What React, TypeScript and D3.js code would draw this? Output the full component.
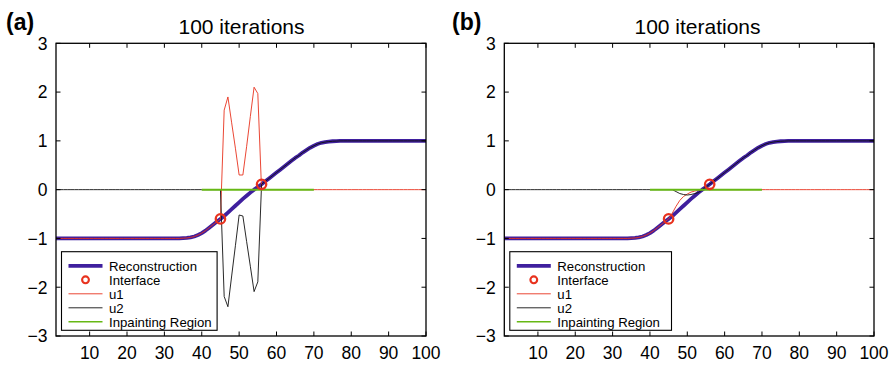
import React from 'react';
import * as d3 from 'd3';

const xIndex = [
  1, 2, 3, 4, 5, 6, 7, 8, 9, 10, 11, 12, 13, 14, 15, 16, 17, 18, 19, 20,
  21, 22, 23, 24, 25, 26, 27, 28, 29, 30, 31, 32, 33, 34, 35, 36, 37, 38, 39, 40,
  41, 42, 43, 44, 45, 46, 47, 48, 49, 50, 51, 52, 53, 54, 55, 56, 57, 58, 59, 60,
  61, 62, 63, 64, 65, 66, 67, 68, 69, 70, 71, 72, 73, 74, 75, 76, 77, 78, 79, 80,
  81, 82, 83, 84, 85, 86, 87, 88, 89, 90, 91, 92, 93, 94, 95, 96, 97, 98, 99, 100,
];

const reconstruction = [
  -1, -1, -1, -1, -1, -1, -1, -1, -1, -1,
  -1, -1, -1, -1, -1, -1, -1, -1, -1, -1,
  -1, -1, -1, -1, -1, -1, -1, -1, -1, -1,
  -1, -1, -1, -1, -0.995, -0.99, -0.98, -0.96, -0.93, -0.89,
  -0.84, -0.78, -0.72, -0.66, -0.6, -0.54, -0.47, -0.4, -0.33, -0.26,
  -0.19, -0.125, -0.06, 0.0, 0.055, 0.11, 0.17, 0.23, 0.29, 0.35,
  0.41, 0.47, 0.53, 0.59, 0.65, 0.7, 0.76, 0.81, 0.86, 0.9,
  0.935, 0.96, 0.975, 0.985, 0.992, 0.996, 0.999, 1, 1, 1,
  1, 1, 1, 1, 1, 1, 1, 1, 1, 1,
  1, 1, 1, 1, 1, 1, 1, 1, 1, 1,
];

const u1A = [
  -1, -1, -1, -1, -1, -1, -1, -1, -1, -1,
  -1, -1, -1, -1, -1, -1, -1, -1, -1, -1,
  -1, -1, -1, -1, -1, -1, -1, -1, -1, -1,
  -1, -1, -1, -1, -0.995, -0.99, -0.98, -0.96, -0.93, -0.89,
  -0.84, -0.78, -0.72, -0.66, -0.6, 1.63, 1.9, 1.37, 0.85, 0.3,
  0.3, 0.88, 1.5, 2.1, 1.97, 0, 0, 0, 0, 0,
  0, 0, 0, 0, 0, 0, 0, 0, 0, 0,
  0, 0, 0, 0, 0, 0, 0, 0, 0, 0,
  0, 0, 0, 0, 0, 0, 0, 0, 0, 0,
  0, 0, 0, 0, 0, 0, 0, 0, 0, 0,
];

const u2A = [
  0, 0, 0, 0, 0, 0, 0, 0, 0, 0,
  0, 0, 0, 0, 0, 0, 0, 0, 0, 0,
  0, 0, 0, 0, 0, 0, 0, 0, 0, 0,
  0, 0, 0, 0, 0, 0, 0, 0, 0, 0,
  0, 0, 0, 0, 0, -2.19, -2.4, -1.77, -1.15, -0.52,
  -0.54, -1.06, -1.57, -2.09, -1.89, 0.11, 0.17, 0.23, 0.29, 0.35,
  0.41, 0.47, 0.53, 0.59, 0.65, 0.7, 0.76, 0.81, 0.86, 0.9,
  0.935, 0.96, 0.975, 0.985, 0.992, 0.996, 0.999, 1, 1, 1,
  1, 1, 1, 1, 1, 1, 1, 1, 1, 1,
  1, 1, 1, 1, 1, 1, 1, 1, 1, 1,
];

const u1B = [
  -1, -1, -1, -1, -1, -1, -1, -1, -1, -1,
  -1, -1, -1, -1, -1, -1, -1, -1, -1, -1,
  -1, -1, -1, -1, -1, -1, -1, -1, -1, -1,
  -1, -1, -1, -1, -0.995, -0.99, -0.98, -0.96, -0.93, -0.89,
  -0.84, -0.78, -0.72, -0.66, -0.6, -0.48, -0.34, -0.22, -0.14, -0.09,
  -0.05, -0.03, -0.01, 0, 0, 0, 0, 0, 0, 0,
  0, 0, 0, 0, 0, 0, 0, 0, 0, 0,
  0, 0, 0, 0, 0, 0, 0, 0, 0, 0,
  0, 0, 0, 0, 0, 0, 0, 0, 0, 0,
  0, 0, 0, 0, 0, 0, 0, 0, 0, 0,
];

const u2B = [
  0, 0, 0, 0, 0, 0, 0, 0, 0, 0,
  0, 0, 0, 0, 0, 0, 0, 0, 0, 0,
  0, 0, 0, 0, 0, 0, 0, 0, 0, 0,
  0, 0, 0, 0, 0, 0, 0, 0, 0, 0,
  0, 0, 0, 0, 0, 0, -0.04, -0.08, -0.1, -0.11,
  -0.1, -0.08, -0.06, 0.0, 0.055, 0.11, 0.17, 0.23, 0.29, 0.35,
  0.41, 0.47, 0.53, 0.59, 0.65, 0.7, 0.76, 0.81, 0.86, 0.9,
  0.935, 0.96, 0.975, 0.985, 0.992, 0.996, 0.999, 1, 1, 1,
  1, 1, 1, 1, 1, 1, 1, 1, 1, 1,
  1, 1, 1, 1, 1, 1, 1, 1, 1, 1,
];

const interfaceX = [45, 56];
const interfaceY = [-0.6, 0.11];
const inpaintX = [40, 70];
const inpaintY = [0, 0];

const xTicks = [10, 20, 30, 40, 50, 60, 70, 80, 90, 100];
const yTicks = [-3, -2, -1, 0, 1, 2, 3];
const legendLabels = ['Reconstruction', 'Interface', 'u1', 'u2', 'Inpainting Region'];
const titleText = '100 iterations';

const C_REC = '#3f1f9e';
const C_RED = '#e8321e';
const C_BLK = '#111111';
const C_GRN = '#66b814';
const FONT = 'Liberation Sans, Arial, Helvetica, sans-serif';

type PanelCfg = {
  left: number;
  right: number;
  label: string;
  labelX: number;
  titleX: number;
  legendW: number;
  u1: number[];
  u2: number[];
};

const panels: PanelCfg[] = [
  { left: 56, right: 426, label: '(a)', labelX: 6, titleX: 241.5, legendW: 155.6, u1: u1A, u2: u2A },
  { left: 504.3, right: 874, label: '(b)', labelX: 452, titleX: 697.5, legendW: 161.7, u1: u1B, u2: u2B },
];

const TOP = 43.3;
const BOTTOM = 336;

function Panel({ cfg }: { cfg: PanelCfg }) {
  const x = d3.scaleLinear().domain([1, 100]).range([cfg.left, cfg.right]);
  const y = d3.scaleLinear().domain([-3, 3]).range([BOTTOM, TOP]);
  const line = d3
    .line<number>()
    .x((_, i) => x(xIndex[i]))
    .y((d) => y(d));
  const pairLine = (xs: number[], ys: number[]) =>
    d3
      .line<number>()
      .x((d) => x(d))
      .y((_, i) => y(ys[i]))(xs) as string;

  const tickLen = 4.5;
  const lgX = cfg.left + 5.5;
  const lgY = 251.7;
  const lgH = 78.6;
  const rowY = (i: number) => 265.8 + i * 14;
  const sx0 = lgX + 7;
  const sx1 = lgX + 41;
  const tx = lgX + 47.5;

  return (
    <g>
      <text x={cfg.labelX} y={29.5} fontFamily={FONT} fontWeight="bold" fontSize={23} fill="#000">
        {cfg.label}
      </text>
      <text x={cfg.titleX} y={34} fontFamily={FONT} fontSize={21} textAnchor="middle" fill="#000">
        {titleText}
      </text>
      <rect x={cfg.left} y={TOP} width={cfg.right - cfg.left} height={BOTTOM - TOP} fill="#fff" />

      <path d={line(reconstruction) as string} fill="none" stroke={C_REC} strokeWidth={3.8} strokeLinejoin="round" />
      <path d={line(cfg.u1) as string} fill="none" stroke={C_RED} strokeWidth={0.9} strokeLinejoin="round" />
      <path d={line(cfg.u2) as string} fill="none" stroke={C_BLK} strokeWidth={0.9} strokeLinejoin="round" />
      <path d={pairLine(inpaintX, inpaintY)} fill="none" stroke={C_GRN} strokeWidth={2} />
      {interfaceX.map((v, i) => (
        <circle key={i} cx={x(v)} cy={y(interfaceY[i])} r={4.7} fill="none" stroke={C_RED} strokeWidth={2.3} />
      ))}

      {xTicks.map((t) => (
        <g key={'x' + t}>
          <line x1={x(t)} x2={x(t)} y1={BOTTOM} y2={BOTTOM - tickLen} stroke="#000" strokeWidth={1} />
          <line x1={x(t)} x2={x(t)} y1={TOP} y2={TOP + tickLen} stroke="#000" strokeWidth={1} />
          <text x={x(t)} y={359} fontFamily={FONT} fontSize={17.5} textAnchor="middle" fill="#000">
            {t}
          </text>
        </g>
      ))}
      {yTicks.map((t) => (
        <g key={'y' + t}>
          <line x1={cfg.left} x2={cfg.left + tickLen} y1={y(t)} y2={y(t)} stroke="#000" strokeWidth={1} />
          <line x1={cfg.right} x2={cfg.right - tickLen} y1={y(t)} y2={y(t)} stroke="#000" strokeWidth={1} />
          <text x={cfg.left - 8.5} y={y(t)} dy="0.36em" fontFamily={FONT} fontSize={17.5} textAnchor="end" fill="#000">
            {t < 0 ? '\u2212' + Math.abs(t) : String(t)}
          </text>
        </g>
      ))}
      <rect x={cfg.left} y={TOP} width={cfg.right - cfg.left} height={BOTTOM - TOP} fill="none" stroke="#000" strokeWidth={1.3} />

      <rect x={lgX} y={lgY} width={cfg.legendW} height={lgH} fill="#fff" stroke="#000" strokeWidth={1.1} />
      <line x1={sx0} x2={sx1} y1={rowY(0)} y2={rowY(0)} stroke={C_REC} strokeWidth={3.8} />
      <circle cx={(sx0 + sx1) / 2} cy={rowY(1)} r={3.4} fill="none" stroke={C_RED} strokeWidth={2.1} />
      <line x1={sx0} x2={sx1} y1={rowY(2)} y2={rowY(2)} stroke={C_RED} strokeWidth={0.9} />
      <line x1={sx0} x2={sx1} y1={rowY(3)} y2={rowY(3)} stroke={C_BLK} strokeWidth={0.9} />
      <line x1={sx0} x2={sx1} y1={rowY(4)} y2={rowY(4)} stroke={C_GRN} strokeWidth={1.6} />
      {legendLabels.map((l, i) => (
        <text key={l} x={tx} y={rowY(i)} dy="0.36em" fontFamily={FONT} fontSize={13.2} fill="#000">
          {l}
        </text>
      ))}
    </g>
  );
}

export default function App() {
  return (
    <svg
      width={895}
      height={366}
      viewBox="0 0 895 366"
      style={{ position: 'absolute', left: 0, top: 0, background: '#fff' }}
    >
      <rect x={0} y={0} width={895} height={366} fill="#fff" />
      {panels.map((p) => (
        <Panel key={p.label} cfg={p} />
      ))}
    </svg>
  );
}
